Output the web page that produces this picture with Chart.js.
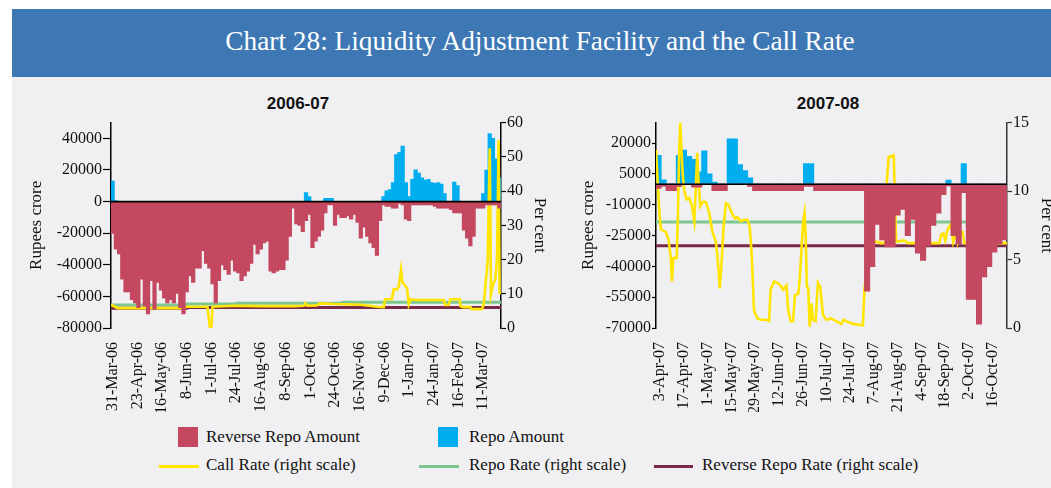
<!DOCTYPE html>
<html><head><meta charset="utf-8">
<script src="https://cdn.jsdelivr.net/npm/chart.js@4.4.1/dist/chart.umd.min.js"></script>
<style>
html,body{margin:0;padding:0;width:1051px;height:488px;overflow:hidden;background:#fff;}
body{position:relative;font-family:'Liberation Serif',serif;color:#111;}
#banner{position:absolute;left:12px;top:9px;width:1039px;height:68px;background:#3D78B5;}
#title{position:absolute;left:0;top:27.5px;width:1080px;text-align:center;color:#fff;font-size:27.3px;line-height:27px;white-space:nowrap;}
#panel{position:absolute;left:12px;top:77px;width:1039px;height:411px;background:#F0F0F2;}
.sub{position:absolute;top:94.6px;width:200px;text-align:center;font-family:'Liberation Sans',sans-serif;font-weight:bold;font-size:17px;line-height:17px;color:#111;}
canvas{position:absolute;}
.lg{position:absolute;font-size:17px;line-height:17px;white-space:nowrap;color:#111;}
.box{position:absolute;width:20px;height:20px;}
.ln{position:absolute;height:3px;}
</style></head>
<body>
<div id="banner"></div>
<div id="title">Chart 28: Liquidity Adjustment Facility and the Call Rate</div>
<div id="panel"></div>
<div class="sub" style="left:198px">2006-07</div>
<div class="sub" style="left:728px">2007-08</div>
<canvas id="c1" width="575" height="300" style="left:0;top:112px"></canvas>
<canvas id="c2" width="520" height="300" style="left:545px;top:112px"></canvas>

<div class="box" style="left:178px;top:427px;background:#C4485F"></div>
<div class="lg" style="left:206px;top:427.5px">Reverse Repo Amount</div>
<div class="box" style="left:438px;top:427px;background:#00AEEF"></div>
<div class="lg" style="left:469px;top:427.5px">Repo Amount</div>
<div class="ln" style="left:159px;top:464.5px;width:40px;background:#FFE500"></div>
<div class="lg" style="left:206px;top:455.8px">Call Rate (right scale)</div>
<div class="ln" style="left:419px;top:464.5px;width:40px;background:#7DC690"></div>
<div class="lg" style="left:469px;top:455.8px">Repo Rate (right scale)</div>
<div class="ln" style="left:654px;top:464.5px;width:39px;background:#7A2A48"></div>
<div class="lg" style="left:702px;top:455.8px">Reverse Repo Rate (right scale)</div>

<script>
// ---------- 2006-07 (day 0 = 31-Mar-06), bars every 3 days ----------
const leftBarStart = 0, leftBarStep = 3;
const leftReverseRepo = [-20000,-30000,-33000,-49000,-57000,-57000,-62000,-64000,-67000,-49000,
 -66000,-71000,-50000,-68000,-51000,-56000,-61000,-64000,-62000,-64000,
 -58000,-67000,-71000,-57000,-47000,-51000,-42000,-42000,-31000,-39000,
 -42000,-52000,-64000,-50000,-40000,-43000,-46000,-37000,-44000,-45000,
 -50000,-47000,-44000,-39000,-27000,-33000,-30000,-26000,-25000,-44000,
 -45000,-44000,-43000,-43000,-37000,-22000,-4000,-14000,-15000,-19000,
 -12000,-8000,-29000,-25000,-22000,-18000,-7000,-2000,-2000,-15000,
 -8000,-10000,-10000,-9000,-11000,-8000,-13000,-23000,-16000,-22000,
 -26000,-29000,-34000,-12000,-2000,-3000,-3000,-4000,-4000,-1000,
 -2000,-11000,-12000,-2000,-2000,-2000,-2000,-2000,-2000,-2000,
 -3000,-4000,-4000,-4000,-4000,-5000,-7000,-7000,-7000,-18000,
 -23000,-28000,-22000,-4000,-4000,-4000,-2000,-2000,-2000,-2000,-4000];
const leftRepo = [12900,500,0,0,0,0,0,0,0,0,
 0,0,0,0,0,0,0,0,0,0,
 0,0,0,0,0,0,0,0,0,0,
 0,0,0,0,0,0,0,0,0,0,
 0,0,0,0,0,0,0,0,0,0,
 0,0,0,0,0,0,0,0,0,0,
 5600,3000,0,0,0,0,2000,2000,2000,0,
 0,0,0,0,0,0,0,0,0,0,
 0,0,0,0,3000,6700,7500,12000,29600,31000,
 35000,12000,3000,14000,20000,18000,15000,13500,14000,12000,
 11500,12000,11000,5000,0,0,12300,10000,0,0,
 0,0,0,0,0,5000,19800,43000,40000,27000,15000];
const leftCallDays = [-1.5,4.6,66.6,68,88.3,89.5,90.5,92,93,113,138,169,178,179.6,181,190,193,206,231,246,
 252.4,253.6,259.8,261.7,264.8,266.3,268.5,269.8,271.6,274.1,275.6,277.2,281.8,308.2,309.7,312.8,314.4,323.1,323.7,326.1,
 333,334.5,343.8,345.4,347.8,349.1,351,352.2,354,356.2,357.8,359.3,360.2,361.5];
const leftCallRate = [6.8,5.8,5.8,6.2,6.2,3.0,0.2,0.2,6.2,6.5,6.4,6.4,6.5,7.2,6.5,6.6,7.2,7.0,6.8,6.2,
 6.1,8.4,8.4,11.3,11.3,12.2,17.1,13.2,12.7,11.5,6.9,8.4,8.2,8.2,6.7,6.7,8.4,8.4,6.4,6.1,
 6.1,5.5,5.5,6.9,15.2,19.5,52.5,9.8,12.7,14.2,20.5,54.9,10.3,10];
const leftRepoRateDays = [-1.5,69,116,214,306,361.5];
const leftRepoRate = [6.5,6.75,7.0,7.25,7.5,7.5];
const leftRevRateDays = [-1.5,69,116,361.5];
const leftRevRate = [5.5,5.75,6.0,6.0];
const leftTickDays = [0,23,46,69,92,115,138,161,184,207,230,253,276,299,322,345];
const leftTickLabels = ['31-Mar-06','23-Apr-06','16-May-06','8-Jun-06','1-Jul-06','24-Jul-06','16-Aug-06','8-Sep-06',
 '1-Oct-06','24-Oct-06','16-Nov-06','9-Dec-06','1-Jan-07','24-Jan-07','16-Feb-07','11-Mar-07'];
const leftAmountTicks = [-80000,-60000,-40000,-20000,0,20000,40000];
const leftRateTicks = [0,10,20,30,40,50,60];

// ---------- 2007-08 (day 0 = 1-Apr-07), bars every 3 days ----------
const rightBarStart = 1, rightBarStep = 3;
const rightReverseRepo = [-2000,-1000,-3000,-3000,-1000,0,0,-1300,-1300,0,
 0,-3000,-3000,-3000,0,0,0,0,-1000,-3000,
 -3000,-3000,-3000,-3000,-3000,-3000,-3000,-3000,-3000,-1000,
 -1000,-3000,-3000,-3000,-3000,-3000,-3000,-3000,-3000,-3000,
 -3000,-52000,-40000,-19500,-27000,-30500,-30500,-15000,-12200,-25000,
 -17000,-33500,-37000,-30000,-20000,-14000,-5000,-800,-25000,-29000,
 -4000,-56000,-56000,-68000,-45000,-40000,-33000,-29000,-27000];
const rightRepo = [14000,2100,0,0,14000,16500,13500,12000,6000,16200,
 5000,1000,0,0,22000,22000,9500,6500,3000,0,
 0,0,0,0,0,0,0,0,0,10000,
 10000,0,0,0,0,0,0,0,0,0,
 0,0,0,0,0,0,0,0,0,0,
 0,0,0,0,0,0,0,1900,0,0,
 10000,0,0,0,0,0,0,0,0];
const rightCallDays = [-0.5,0.5,1.5,2.4,5.4,7,8.3,8.9,9.7,11.7,
 12.4,13.2,13.8,15.2,16.2,17.5,19.1,20.7,22.1,23,
 23.8,24.6,25.6,27,28.9,30.9,32.8,34.8,35.8,37.1,
 38.3,39.3,40.7,42.2,44.6,46.2,47.5,49.5,51.5,53.4,
 54.8,56,57.3,59.3,61.3,64.2,66.2,67.1,69.1,71.1,
 73,74.4,76.4,77.5,78.9,80.3,81.5,83.4,84.2,85.2,
 86.2,87.1,87.7,88.5,89.3,90.1,91.3,92,93.6,95,
 96.4,97.9,99.9,102.8,105.8,108.7,110.1,111.6,115.6,121.5,
 122.4,123.4,124.4,125.4,129.3,132.2,134.8,135.6,136.7,139.7,
 140.5,141.1,146,148,166.6,167.6,169,170.1,171.5,172.9,
 174,174.8,176.4,177.4,178.7,180.3,181.3,206.5];
const rightCallRate = [13,10.6,8.4,7.2,7.0,6.4,5.0,3.4,5.1,5.1,
 8.1,13,15,11.3,10,9.4,9.5,8.9,7.8,10.3,
 12.8,10.6,8.9,9.2,9.2,8.4,7.0,6.3,5.2,2.9,
 5.0,7.3,9.1,9.0,8.3,8.0,8.1,7.8,7.9,7.9,
 7.4,5.2,1.3,0.7,0.6,0.6,0.5,2.8,3.4,3.3,
 3.1,2.8,3.1,1.3,0.5,0.5,2.4,2.5,3.5,5.5,
 7.7,8.4,6.9,3.0,2.9,0.1,1.8,0.6,0.5,3.3,
 3.0,1.0,0.6,0.7,0.5,0.3,0.6,0.5,0.3,0.2,
 2.8,3.9,4.0,6.1,6.3,6.2,6.2,10.6,12.5,12.6,
 9.0,6.3,6.4,6.2,6.2,6.8,6.9,6.4,7.2,7.5,
 7.2,6.3,7.0,6.3,7.0,7.0,6.2,6.2];
const rightRepoRateDays = [-0.5,206.5];
const rightRepoRate = [7.75,7.75];
const rightRevRateDays = [-0.5,206.5];
const rightRevRate = [6.0,6.0];
const rightTickDays = [2,16,30,44,58,72,86,100,114,128,142,156,170,184,198];
const rightTickLabels = ['3-Apr-07','17-Apr-07','1-May-07','15-May-07','29-May-07','12-Jun-07','26-Jun-07','10-Jul-07',
 '24-Jul-07','7-Aug-07','21-Aug-07','4-Sep-07','18-Sep-07','2-Oct-07','16-Oct-07'];
const rightAmountTicks = [-70000,-55000,-40000,-25000,-10000,5000,20000];
const rightRateTicks = [0,5,10,15];

// ---------- rendering ----------
Chart.defaults.font.family = "'Liberation Serif', serif";
Chart.defaults.color = '#111';
const RED = '#C4485F', BLUE = '#00AEEF', YEL = '#FFE500', GRN = '#7DC690', MAR = '#7A2A48';

function pts(xs, ys) { return xs.map((x, i) => ({x: x, y: ys[i]})); }
function barPts(start, step, ys) { return ys.map((y, i) => ({x: start + i * step, y: y})); }

const zeroLine = {
  id: 'zeroLine',
  afterDatasetsDraw(chart) {
    const ctx = chart.ctx, a = chart.chartArea, py = chart.scales.y.getPixelForValue(0);
    ctx.save(); ctx.strokeStyle = '#000'; ctx.lineWidth = 1.6;
    ctx.beginPath(); ctx.moveTo(a.left, py); ctx.lineTo(a.right, py); ctx.stroke(); ctx.restore();
  }
};

function build(id, o) {
  const tickFont = {family: "'Liberation Serif', serif", size: 16};
  const titleFont = {family: "'Liberation Serif', serif", size: 17};
  return new Chart(document.getElementById(id), {
    type: 'bar',
    data: {datasets: [
      {type: 'bar', label: 'Reverse Repo Amount', data: barPts(o.barStart, o.barStep, o.rev), backgroundColor: RED,
       borderWidth: 0, inflateAmount: 0.5, grouped: false, barPercentage: 1, categoryPercentage: 1, yAxisID: 'y', order: 1},
      {type: 'bar', label: 'Repo Amount', data: barPts(o.barStart, o.barStep, o.repo), backgroundColor: BLUE,
       borderWidth: 0, inflateAmount: 0.5, grouped: false, barPercentage: 1, categoryPercentage: 1, yAxisID: 'y', order: 3},
      {type: 'line', label: 'Call Rate (right scale)', data: pts(o.callDays, o.call), borderColor: YEL, borderWidth: 2.6,
       pointRadius: 0, tension: 0, fill: false, yAxisID: 'y1', order: 2},
      {type: 'line', label: 'Repo Rate (right scale)', data: pts(o.repoRateDays, o.repoRate), borderColor: GRN, borderWidth: 3,
       pointRadius: 0, stepped: 'after', fill: false, yAxisID: 'y1', order: 2},
      {type: 'line', label: 'Reverse Repo Rate (right scale)', data: pts(o.revRateDays, o.revRate), borderColor: MAR, borderWidth: 3,
       pointRadius: 0, stepped: 'after', fill: false, yAxisID: 'y1', order: 2}
    ]},
    options: {
      responsive: false, animation: false, events: [],
      layout: {padding: {left: 0, right: 0, top: 10, bottom: 0}},
      plugins: {legend: {display: false}, tooltip: {enabled: false}},
      scales: {
        x: {type: 'linear', min: o.xMin, max: o.xMax, offset: false,
            afterBuildTicks: s => { s.ticks = o.tickDays.map(v => ({value: v})); },
            afterFit: s => { s.height = 84; },
            ticks: {autoSkip: false, minRotation: 90, maxRotation: 90, padding: 6, font: tickFont, color: '#111',
                    callback: (v, i) => o.tickLabels[i]},
            grid: {display: false}, border: {display: false}},
        y: {type: 'linear', position: 'left', min: o.yMin, max: o.yMax,
            afterBuildTicks: s => { s.ticks = o.yTicks.map(v => ({value: v})); },
            afterFit: s => { s.width = o.yW; },
            ticks: {font: tickFont, color: '#111', padding: o.yPad, callback: v => String(v)},
            grid: {drawOnChartArea: false, drawTicks: true, tickLength: o.yTick, tickColor: '#000', tickWidth: 1.2},
            border: {display: true, color: '#000', width: 1.5},
            title: {display: true, text: 'Rupees crore', font: titleFont, color: '#111', padding: {top: o.yTitlePad, bottom: 0}}},
        y1: {type: 'linear', position: 'right', min: o.rMin, max: o.rMax,
            afterBuildTicks: s => { s.ticks = o.rTicks.map(v => ({value: v})); },
            afterFit: s => { s.width = o.rW; },
            ticks: {font: tickFont, color: '#111', padding: 1, callback: v => String(v)},
            grid: {drawOnChartArea: false, drawTicks: true, tickLength: 5, tickColor: o.rColor, tickWidth: 1.2},
            border: {display: true, color: o.rColor, width: 1.5},
            title: {display: true, text: 'Per cent', font: titleFont, color: '#111', padding: {top: o.rTitlePad, bottom: 0}}}
      }
    },
    plugins: [zeroLine]
  });
}

build('c1', {barStart: leftBarStart, barStep: leftBarStep, rev: leftReverseRepo, repo: leftRepo,
  callDays: leftCallDays, call: leftCallRate, repoRateDays: leftRepoRateDays, repoRate: leftRepoRate,
  revRateDays: leftRevRateDays, revRate: leftRevRate, tickDays: leftTickDays, tickLabels: leftTickLabels,
  xMin: -1.5, xMax: 361.5, yMin: -80000, yMax: 50000, yTicks: leftAmountTicks, rMin: 0, rMax: 60, rTicks: leftRateTicks,
  yW: 111, rW: 74, yPad: 1, yTick: 8, yTitlePad: 26.5, rTitlePad: 25, rColor: '#000'});

build('c2', {barStart: rightBarStart, barStep: rightBarStep, rev: rightReverseRepo, repo: rightRepo,
  callDays: rightCallDays, call: rightCallRate, repoRateDays: rightRepoRateDays, repoRate: rightRepoRate,
  revRateDays: rightRevRateDays, revRate: rightRevRate, tickDays: rightTickDays, tickLabels: rightTickLabels,
  xMin: -0.5, xMax: 206.5, yMin: -70000, yMax: 30000, yTicks: rightAmountTicks, rMin: 0, rMax: 15, rTicks: rightRateTicks,
  yW: 111, rW: 58, yPad: 1, yTick: 4, yTitlePad: 33.8, rTitlePad: 8.8, rColor: '#333'});
</script>
</body></html>
